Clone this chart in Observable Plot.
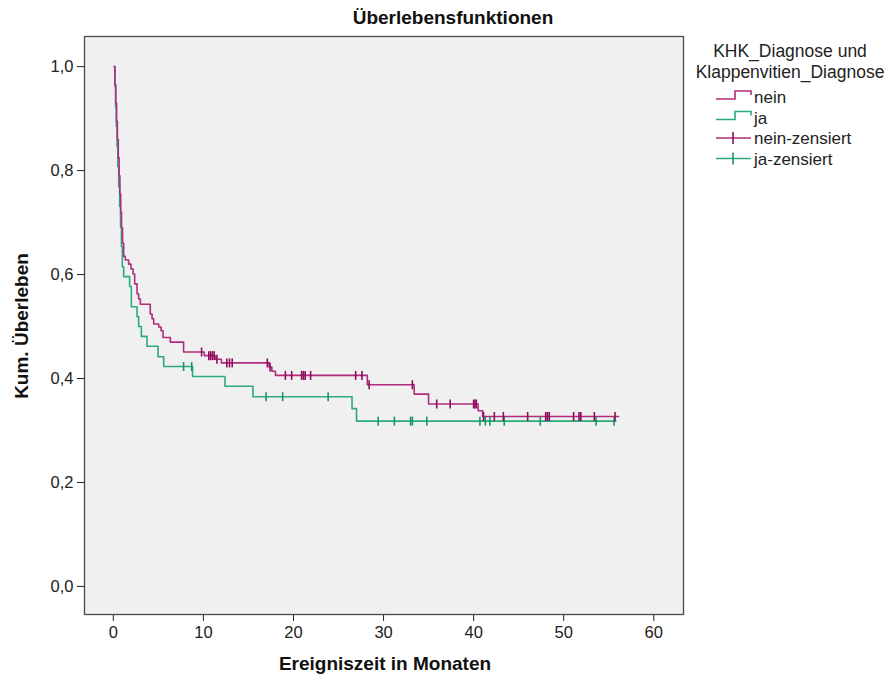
<!DOCTYPE html>
<html><head><meta charset="utf-8">
<script src="https://cdn.jsdelivr.net/npm/d3@7"></script>
<script src="https://cdn.jsdelivr.net/npm/@observablehq/plot@0.6"></script>
<style>
body{margin:0;background:#fff;}
#wrap{position:relative;width:894px;height:677px;font-family:"Liberation Sans",Arial,sans-serif;color:#111;}
#chart{position:absolute;left:0;top:0;}
.lbl{position:absolute;font-weight:bold;font-size:19px;white-space:nowrap;}
#title{left:453px;top:7px;transform:translateX(-50%);}
#xlab{left:385px;top:653px;transform:translateX(-50%);}
#ylab{left:22px;top:326px;transform:translate(-50%,-50%) rotate(-90deg);}
#legend{position:absolute;left:684px;top:36px;}
</style></head><body>
<div id="wrap"><div id="chart"></div>
<div class="lbl" id="title">Überlebensfunktionen</div>
<div class="lbl" id="xlab">Ereigniszeit in Monaten</div>
<div class="lbl" id="ylab">Kum. Überleben</div>
<svg id="legend" width="210" height="140"></svg>
</div>
<script>
// ---- data ----
const xTicks = [0, 10, 20, 30, 40, 50, 60];
const yTicks = [0, 0.2, 0.4, 0.6, 0.8, 1.0];
const groups = ["nein", "ja"];
const legendTitle = ["KHK_Diagnose und", "Klappenvitien_Diagnose"];
const legendLabels = ["nein", "ja", "nein-zensiert", "ja-zensiert"];

const neinTime = [0.1, 0.18, 0.27, 0.36, 0.45, 0.55, 0.64, 0.73, 0.82, 0.91, 1.02, 1.15, 1.33, 1.70, 1.96, 2.19, 2.37, 2.63, 2.81, 3.0, 4.1, 4.3, 4.48, 5.04, 5.3, 5.52, 6.33, 7.8, 10.1, 11.3, 12.0, 17.3, 17.6, 18.0, 28.2, 33.4, 35.0, 40.5, 41.0, 56.1];
const neinSurv = [1.0, 0.965, 0.93, 0.895, 0.86, 0.825, 0.79, 0.755, 0.72, 0.69, 0.66, 0.635, 0.628, 0.620, 0.611, 0.601, 0.582, 0.563, 0.553, 0.543, 0.524, 0.515, 0.505, 0.499, 0.492, 0.479, 0.470, 0.451, 0.444, 0.437, 0.430, 0.422, 0.414, 0.406, 0.388, 0.370, 0.351, 0.338, 0.327, 0.327];
const neinCensTime = [9.8, 10.6, 10.8, 11.0, 11.2, 11.5, 12.6, 12.9, 13.2, 17.1, 17.4, 19.1, 19.8, 20.9, 21.1, 21.3, 21.9, 26.9, 27.6, 28.4, 33.2, 35.9, 37.4, 40.0, 40.15, 40.3, 41.1, 42.3, 43.3, 46.0, 48.0, 48.2, 48.4, 51.1, 51.7, 51.9, 53.4, 55.7];
const neinCensSurv = [0.451, 0.444, 0.444, 0.444, 0.444, 0.437, 0.430, 0.430, 0.430, 0.430, 0.422, 0.406, 0.406, 0.406, 0.406, 0.406, 0.406, 0.406, 0.406, 0.388, 0.388, 0.351, 0.351, 0.351, 0.351, 0.351, 0.327, 0.327, 0.327, 0.327, 0.327, 0.327, 0.327, 0.327, 0.327, 0.327, 0.327, 0.327];

const jaTime = [0.1, 0.17, 0.25, 0.33, 0.42, 0.5, 0.6, 0.7, 0.8, 0.9, 1.0, 1.15, 1.81, 2.0, 2.63, 2.81, 3.11, 3.74, 4.96, 5.59, 8.8, 12.4, 15.5, 26.5, 27.0, 55.8];
const jaSurv = [1.0, 0.962, 0.923, 0.885, 0.846, 0.808, 0.769, 0.731, 0.692, 0.654, 0.615, 0.596, 0.577, 0.538, 0.519, 0.500, 0.481, 0.462, 0.442, 0.423, 0.404, 0.385, 0.365, 0.342, 0.318, 0.318];
const jaCensTime = [7.8, 8.7, 16.96, 18.8, 23.85, 29.4, 31.2, 33.0, 33.2, 34.8, 40.7, 41.3, 41.8, 43.4, 47.4, 53.6, 55.6];
const jaCensSurv = [0.423, 0.423, 0.365, 0.365, 0.365, 0.318, 0.318, 0.318, 0.318, 0.318, 0.318, 0.318, 0.318, 0.318, 0.318, 0.318, 0.318];

// ---- styles ----
const lineColor = {nein: "#b02c7c", ja: "#2bab7c"};
const censColor = {nein: "#8e0c5e", ja: "#17946a"};

const toRows = (ts, ss) => ts.map((t, i) => ({t, s: ss[i]}));
const neinRows = toRows(neinTime, neinSurv);
const jaRows = toRows(jaTime, jaSurv);
const neinCens = toRows(neinCensTime, neinCensSurv);
const jaCens = toRows(jaCensTime, jaCensSurv);

const tickSymbol = {draw(ctx) { ctx.moveTo(0, -4.5); ctx.lineTo(0, 4.5); }};
const fmt = d => d.toFixed(1).replace(".", ",");

const chart = Plot.plot({
  width: 894, height: 677,
  marginLeft: 84, marginRight: 211, marginTop: 36, marginBottom: 63,
  style: {fontFamily: "Liberation Sans, Arial, sans-serif", fontSize: "16.5px", color: "#222", background: "transparent", overflow: "visible"},
  x: {domain: [-3.2, 63.3], ticks: xTicks, tickSize: 7, tickPadding: 5, label: null},
  y: {domain: [-0.054, 1.058], ticks: yTicks, tickSize: 7, tickPadding: 4, tickFormat: fmt, label: null},
  marks: [
    Plot.frame({fill: "#f0f0f0", stroke: "none"}),
    Plot.line(jaRows, {x: "t", y: "s", curve: "step-after", stroke: lineColor.ja, strokeWidth: 1.6}),
    Plot.line(neinRows, {x: "t", y: "s", curve: "step-after", stroke: lineColor.nein, strokeWidth: 1.6}),
    Plot.dot(jaCens, {x: "t", y: "s", symbol: tickSymbol, r: 4, fill: "none", stroke: censColor.ja, strokeWidth: 1.6}),
    Plot.dot(neinCens, {x: "t", y: "s", symbol: tickSymbol, r: 4, fill: "none", stroke: censColor.nein, strokeWidth: 1.6}),
    Plot.frame({stroke: "#4a4a4a", strokeWidth: 1.3})
  ]
});
document.getElementById("chart").appendChild(chart);

// ---- legend ----
const leg = d3.select("#legend");
leg.selectAll("text.t").data(legendTitle).join("text")
  .attr("x", 106).attr("y", (d, i) => 21 + i * 21)
  .attr("text-anchor", "middle").attr("font-size", 17.5)
  .attr("font-family", "Liberation Sans, Arial, sans-serif").attr("fill", "#222").text(d => d);
const items = [
  {label: legendLabels[0], g: groups[0], kind: "step"},
  {label: legendLabels[1], g: groups[1], kind: "step"},
  {label: legendLabels[2], g: groups[0], kind: "cens"},
  {label: legendLabels[3], g: groups[1], kind: "cens"}
];
items.forEach((it, i) => {
  const cy = 61 + i * 20.5;
  if (it.kind === "step") {
    leg.append("path").attr("d", `M32,${cy + 2}H51V${cy - 6}H67V${cy - 2}`)
      .attr("fill", "none").attr("stroke", lineColor[it.g]).attr("stroke-width", 1.6);
  } else {
    leg.append("path").attr("d", `M32,${cy}H67`).attr("stroke", lineColor[it.g]).attr("stroke-width", 1.6);
    leg.append("path").attr("d", `M49,${cy - 6}V${cy + 6}`).attr("stroke", censColor[it.g]).attr("stroke-width", 1.6);
  }
  leg.append("text").attr("x", 70).attr("y", cy + 6).attr("font-size", 17)
    .attr("font-family", "Liberation Sans, Arial, sans-serif").attr("fill", "#222").text(it.label);
});
</script>
</body></html>
